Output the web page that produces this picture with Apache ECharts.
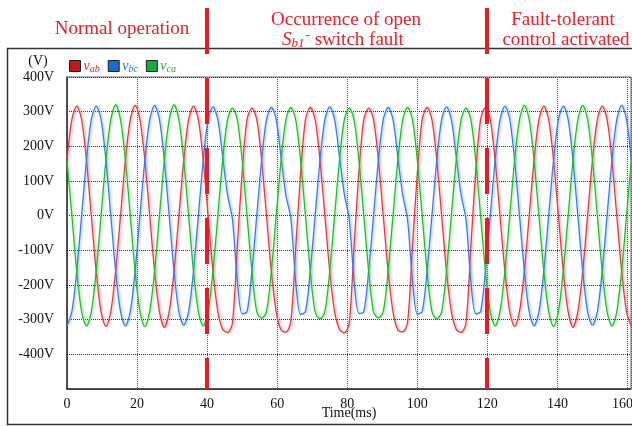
<!DOCTYPE html>
<html>
<head>
<meta charset="utf-8">
<script src="https://cdn.jsdelivr.net/npm/echarts@6/dist/echarts.min.js"></script>
<style>
  html, body { margin: 0; padding: 0; background: #ffffff; }
  #main { width: 632px; height: 426px; }
</style>
</head>
<body>
<div id="main"></div>
<script>
// time samples (ms), read every ~1.39 ms (30 deg of a 60 Hz cycle)
var T = [0,1.39,2.78,4.17,5.56,6.94,8.33,9.72,11.11,12.5,13.89,15.28,
  16.67,18.06,19.44,20.83,22.22,23.61,25,26.39,27.78,29.17,30.56,31.94,
  33.33,34.72,36.11,37.5,38.89,40.28,41.67,43.06,44.44,45.83,47.22,48.61,
  50,51.39,52.78,54.17,55.56,56.94,58.33,59.72,61.11,62.5,63.89,65.28,
  66.67,68.06,69.44,70.83,72.22,73.61,75,76.39,77.78,79.17,80.56,81.94,
  83.33,84.72,86.11,87.5,88.89,90.28,91.67,93.06,94.44,95.83,97.22,98.61,
  100,101.39,102.78,104.17,105.56,106.94,108.33,109.72,111.11,112.5,113.89,115.28,
  116.67,118.06,119.44,120.83,122.22,123.61,125,126.39,127.78,129.17,130.56,131.94,
  133.33,134.72,136.11,137.5,138.89,140.28,141.67,143.06,144.44,145.83,147.22,148.61,
  150,151.39,152.78,154.17,155.56,156.94,158.33,159.72,161.11];

// v_ab (red)
var VAB = [160,277,316,277,160,0,-160,-277,-320,-277,-160,0,
  160,277,318,277,160,0,-160,-277,-322,-277,-160,0,
  160,277,316,277,160,0,-160,-277,-328,-337,-310,-90,
  125,277,310,277,160,0,-160,-277,-330,-336,-305,-95,
  120,277,312,277,160,0,-160,-277,-328,-338,-310,-90,
  125,277,310,277,160,0,-160,-277,-330,-335,-308,-92,
  122,277,312,277,160,0,-160,-277,-328,-337,-310,-90,
  125,277,312,277,160,0,-160,-277,-320,-277,-160,0,
  160,277,316,277,160,0,-160,-277,-322,-277,-160,0,
  160,277,316,277,160,0,-160,-277,-320];

// v_bc (blue)
var VBC = [-318,-277,-160,0,160,277,316,277,160,0,-160,-277,
  -318,-277,-160,0,160,277,318,277,160,0,-160,-277,
  -316,-277,-160,0,160,277,314,277,170,60,-10,-187,
  -283,-277,-160,0,160,277,312,277,168,58,-8,-190,
  -285,-277,-160,0,160,277,314,277,170,62,-10,-187,
  -282,-277,-160,0,160,277,312,277,168,60,-12,-185,
  -284,-277,-160,0,160,277,314,277,170,60,-10,-188,
  -283,-277,-160,0,160,277,316,277,160,0,-160,-277,
  -318,-277,-160,0,160,277,316,277,160,0,-160,-277,
  -316,-277,-160,0,160,277,318,277,160];

// v_ca (green)
var VCA = [160,0,-160,-277,-318,-277,-160,0,160,277,320,277,
  160,0,-160,-277,-320,-277,-160,0,160,277,320,277,
  160,0,-160,-277,-318,-277,-160,0,160,277,310,277,
  160,0,-160,-277,-296,-277,-160,0,160,277,312,277,
  160,0,-160,-277,-298,-277,-160,0,160,277,310,277,
  160,0,-160,-277,-295,-277,-160,0,160,277,312,277,
  160,0,-160,-277,-298,-277,-160,0,160,277,310,277,
  160,0,-160,-277,-318,-277,-160,0,160,277,318,277,
  160,0,-160,-277,-320,-277,-160,0,160,277,318,277,
  160,0,-160,-277,-318,-277,-160,0,160];

var EVENTS = [40, 120];   // ms, red marker lines

var SERIF = '"Liberation Serif","Times New Roman",serif';
var RED_TXT = '#ee1c24';

function pairs(v) {
  return T.map(function (t, i) { return [t, v[i]]; });
}

var chart = echarts.init(document.getElementById('main'));

function wave(name, data, color, halo, box) {
  return {
    name: name,
    type: 'line',
    data: pairs(data),
    showSymbol: false,
    smooth: 0.3,
    color: box,
    lineStyle: { color: color, width: 1.3, shadowColor: halo, shadowBlur: 2, shadowOffsetX: 1.5 },
    animation: false
  };
}

chart.setOption({
  backgroundColor: '#ffffff',
  animation: false,
  grid: { left: 67, right: 1, top: 77, bottom: 37, outerBoundsMode: 'none', containLabel: false,
    show: true, borderColor: '#666', borderWidth: 1 },
  legend: {
    left: 64, top: 54,
    icon: 'rect', itemWidth: 11, itemHeight: 11, itemGap: 8,
    itemStyle: { borderColor: '#222', borderWidth: 1 },
    data: ['vab', 'vbc', 'vca'],
    formatter: function (name) {
      return '{v' + name + '|v}{s' + name + '|' + name.slice(1) + '}';
    },
    textStyle: {
      padding: [0, 0, 0, -2],
      rich: {
        vvab: { fontFamily: SERIF, fontStyle: 'italic', fontSize: 14, color: '#e02828' },
        svab: { fontFamily: SERIF, fontStyle: 'italic', fontSize: 10, color: '#e02828', padding: [6, 0, 0, 0] },
        vvbc: { fontFamily: SERIF, fontStyle: 'italic', fontSize: 14, color: '#2f6fd8' },
        svbc: { fontFamily: SERIF, fontStyle: 'italic', fontSize: 10, color: '#2f6fd8', padding: [6, 0, 0, 0] },
        vvca: { fontFamily: SERIF, fontStyle: 'italic', fontSize: 14, color: '#1fae3c' },
        svca: { fontFamily: SERIF, fontStyle: 'italic', fontSize: 10, color: '#1fae3c', padding: [6, 0, 0, 0] }
      }
    }
  },
  xAxis: {
    type: 'value', min: 0, max: 161, interval: 20,
    name: 'Time(ms)', nameLocation: 'middle', nameGap: 17, nameMoveOverlap: false,
    nameTextStyle: { fontFamily: SERIF, fontSize: 14, color: '#111' },
    axisLine: { show: true, onZero: false, lineStyle: { color: '#333', width: 1.5 } },
    axisTick: { show: false },
    axisLabel: {
      showMaxLabel: false, margin: 8, fontFamily: SERIF, fontSize: 14, color: '#111',
      formatter: function (v) { return v === 160 ? '{r|160}' : String(v); },
      rich: { r: { fontFamily: SERIF, fontSize: 14, color: '#111', padding: [0, 10, 0, 0] } }
    },
    splitLine: { show: true, lineStyle: { color: '#555', type: 'dotted', width: 1 } }
  },
  yAxis: {
    type: 'value', min: -500, max: 400, interval: 100,
    axisLine: { show: true, lineStyle: { color: '#333', width: 1.5 } },
    axisTick: { show: false },
    axisLabel: {
      showMinLabel: false, margin: 13, fontFamily: SERIF, fontSize: 14, color: '#111',
      formatter: function (v) { return v + 'V'; }
    },
    splitLine: { show: true, lineStyle: { color: '#333', type: 'dotted', width: 1 } }
  },
  series: [
    wave('vab', VAB, '#e23a40', 'rgba(230,70,80,0.45)', '#c4141c'),
    wave('vbc', VBC, '#3a7ae6', 'rgba(70,130,235,0.45)', '#1b6cd2'),
    wave('vca', VCA, '#22bb2a', 'rgba(50,200,60,0.45)', '#12ac3c')
  ]
});

// annotations: frame, red event markers and labels
var yBottom = chart.convertToPixel({ yAxisIndex: 0 }, -500);
var g = [
  { type: 'rect', shape: { x: 7.5, y: 48.5, width: 640, height: 376 }, style: { fill: null, stroke: '#333', lineWidth: 1.5 }, z: 1 },
  { type: 'text', x: 38, y: 61, style: { text: '(V)', fontFamily: SERIF, fontSize: 14, fill: '#111', textAlign: 'center', textVerticalAlign: 'middle' } },
  { type: 'text', x: 122, y: 29, style: { text: 'Normal operation', fontFamily: SERIF, fontSize: 19, fill: RED_TXT, textAlign: 'center', textVerticalAlign: 'middle' } },
  { type: 'text', x: 346, y: 20, style: { text: 'Occurrence of open', fontFamily: SERIF, fontSize: 19, fill: RED_TXT, textAlign: 'center', textVerticalAlign: 'middle' } },
  { type: 'text', x: 343, y: 40, style: {
      text: '{i|S}{sub|b1}{sup|-} switch fault',
      fontFamily: SERIF, fontSize: 19, fill: RED_TXT, textAlign: 'center', textVerticalAlign: 'middle',
      rich: {
        i: { fontFamily: SERIF, fontStyle: 'italic', fontSize: 19, fill: RED_TXT },
        sub: { fontFamily: SERIF, fontStyle: 'italic', fontSize: 13, fill: RED_TXT, padding: [8, 0, 0, 0] },
        sup: { fontFamily: SERIF, fontSize: 13, fill: RED_TXT, padding: [0, 0, 9, 1] }
      } } },
  { type: 'text', x: 563, y: 20, style: { text: 'Fault-tolerant', fontFamily: SERIF, fontSize: 19, fill: RED_TXT, textAlign: 'center', textVerticalAlign: 'middle' } },
  { type: 'text', x: 566, y: 40, style: { text: 'control activated', fontFamily: SERIF, fontSize: 19, fill: RED_TXT, textAlign: 'center', textVerticalAlign: 'middle' } }
];
EVENTS.forEach(function (t) {
  var x = Math.round(chart.convertToPixel({ xAxisIndex: 0 }, t));
  g.push({ type: 'line', shape: { x1: x, y1: 8, x2: x, y2: yBottom },
    style: { stroke: '#e81c24', lineWidth: 4, lineDash: [46, 24] }, z: 10 });
});
chart.setOption({ graphic: g });
</script>
</body>
</html>
